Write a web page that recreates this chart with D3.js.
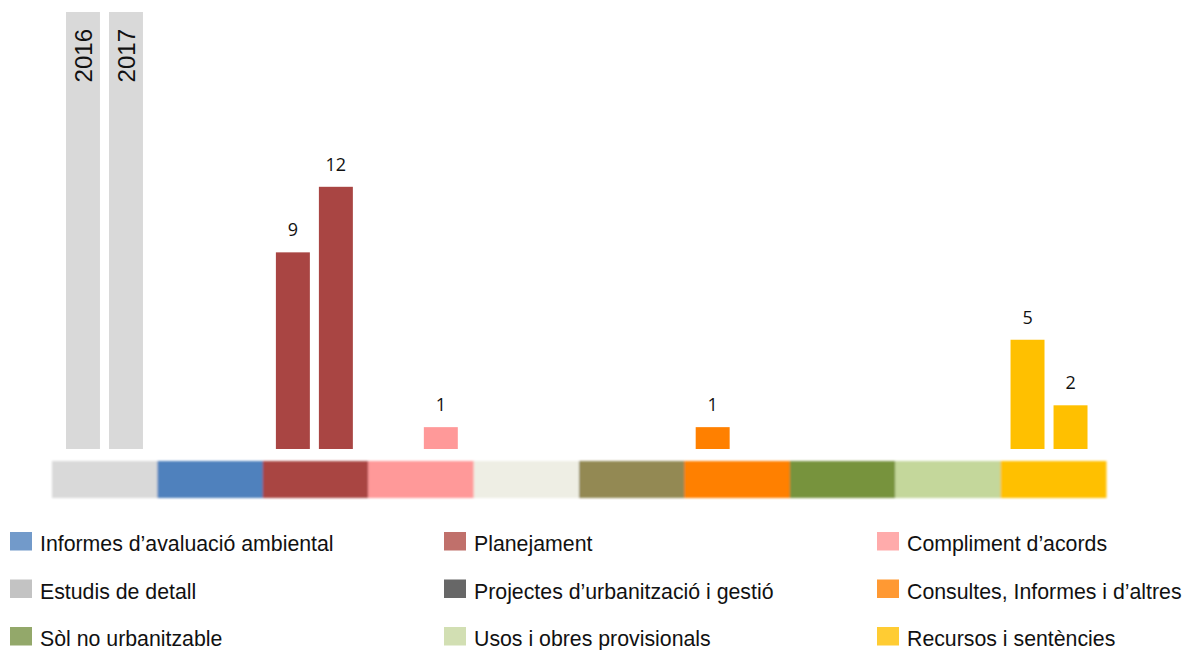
<!DOCTYPE html>
<html>
<head>
<meta charset="utf-8">
<script src="https://cdn.jsdelivr.net/npm/d3@7"></script>
<style>
  html, body { margin: 0; padding: 0; background: #fff; }
  svg { display: block; }
</style>
</head>
<body>
<svg id="chart" width="1183" height="650"></svg>
<script>
// Expedient types, in the order of the coloured key strip
const categories = [
  "Estudis de detall",
  "Informes d’avaluació ambiental",
  "Planejament",
  "Compliment d’acords",
  "Altres",
  "Projectes d’urbanització i gestió",
  "Consultes, Informes i d’altres",
  "Sòl no urbanitzable",
  "Usos i obres provisionals",
  "Recursos i sentències"
];
const stripColors = ["#d9d9d9", "#4f81bd", "#a94543", "#ff9999", "#eeeee4",
                     "#938953", "#ff8000", "#77933c", "#c4d79b", "#ffc000"];

// Counts per year
const years = ["2016", "2017"];
const values2016 = [0, 0, 9, 0, 0, 0, 1, 0, 0, 5];
const values2017 = [0, 0, 12, 1, 0, 0, 0, 0, 0, 2];

// The year key bars sit in the first slot and span the full value range
const yearKeyCategory = "Estudis de detall";
const yMax = 20;

// Legend entries (three columns, three rows)
const legendLabels = [
  "Informes d’avaluació ambiental", "Planejament", "Compliment d’acords",
  "Estudis de detall", "Projectes d’urbanització i gestió", "Consultes, Informes i d’altres",
  "Sòl no urbanitzable", "Usos i obres provisionals", "Recursos i sentències"
];
const legendColors = [
  "#729aca", "#c0706b", "#ffabab",
  "#c3c3c3", "#676767", "#ff9933",
  "#93a86a", "#d2dfb3", "#ffcc33"
];

const svg = d3.select("#chart");

// Strip scale and a slightly tighter scale for the bar groups
const xStrip = d3.scaleBand().domain(categories).range([52, 1106]).padding(0);
const x = d3.scaleBand().domain(categories).range([52, 1101.5]).padding(0);
const bw = x.bandwidth();
const xYear = d3.scaleBand().domain(years)
  .range([bw / 2 - 43, bw / 2 + 43])
  .paddingInner(0.21).paddingOuter(0.105);
const y = d3.scaleLinear().domain([0, yMax]).range([449, 12]);

// Blur for the soft-edged key strip
const defs = svg.append("defs");
defs.append("filter").attr("id", "soft")
  .attr("x", "-2%").attr("y", "-10%").attr("width", "104%").attr("height", "120%")
  .append("feGaussianBlur").attr("stdDeviation", 1.1);

// Key strip of category colours
svg.append("g").attr("filter", "url(#soft)")
  .selectAll("rect").data(categories).join("rect")
  .attr("x", d => xStrip(d))
  .attr("y", 461)
  .attr("width", xStrip.bandwidth() + 0.5)
  .attr("height", 37)
  .attr("fill", (d, i) => stripColors[i]);

// Year key bars with rotated year labels
const keyG = svg.append("g").attr("transform", `translate(${x(yearKeyCategory)},0)`);
keyG.selectAll("rect").data(years).join("rect")
  .attr("x", d => xYear(d))
  .attr("y", y(yMax))
  .attr("width", xYear.bandwidth())
  .attr("height", y(0) - y(yMax))
  .attr("fill", "#d9d9d9");
keyG.selectAll("text").data(years).join("text")
  .attr("transform", d => `translate(${xYear(d) + xYear.bandwidth() / 2 + 9},${y(yMax) + 17}) rotate(-90)`)
  .attr("text-anchor", "end")
  .attr("font-family", "Liberation Sans, Arial, sans-serif")
  .attr("font-size", 24)
  .attr("fill", "#111")
  .text(d => d);

// Data bars
const barData = [];
categories.forEach((c, i) => {
  if (c === yearKeyCategory) return;
  [values2016[i], values2017[i]].forEach((v, j) => {
    if (v > 0) barData.push({ cat: c, year: years[j], value: v, color: stripColors[i] });
  });
});

svg.append("g").selectAll("rect").data(barData).join("rect")
  .attr("x", d => x(d.cat) + xYear(d.year))
  .attr("y", d => y(d.value))
  .attr("width", xYear.bandwidth())
  .attr("height", d => y(0) - y(d.value))
  .attr("fill", d => d.color);

svg.append("g").selectAll("text").data(barData).join("text")
  .attr("x", d => x(d.cat) + xYear(d.year) + xYear.bandwidth() / 2)
  .attr("y", d => y(d.value) - 16)
  .attr("text-anchor", "middle")
  .attr("font-family", "Open Sans, sans-serif")
  .attr("font-size", 18)
  .attr("fill", "#111")
  .text(d => d.value);

// Legend
const colX = [10, 444, 877];
const rowY = [532, 579.5, 627];
const lg = svg.append("g").selectAll("g").data(legendLabels).join("g")
  .attr("transform", (d, i) => `translate(${colX[i % 3]},${rowY[Math.floor(i / 3)]})`);
lg.append("rect")
  .attr("width", 22).attr("height", 18.5)
  .attr("fill", (d, i) => legendColors[i]);
lg.append("text")
  .attr("x", 30).attr("y", 19)
  .attr("font-family", "Liberation Sans, Arial, sans-serif")
  .attr("font-size", 21.3)
  .attr("fill", "#111")
  .text(d => d);
</script>
</body>
</html>
